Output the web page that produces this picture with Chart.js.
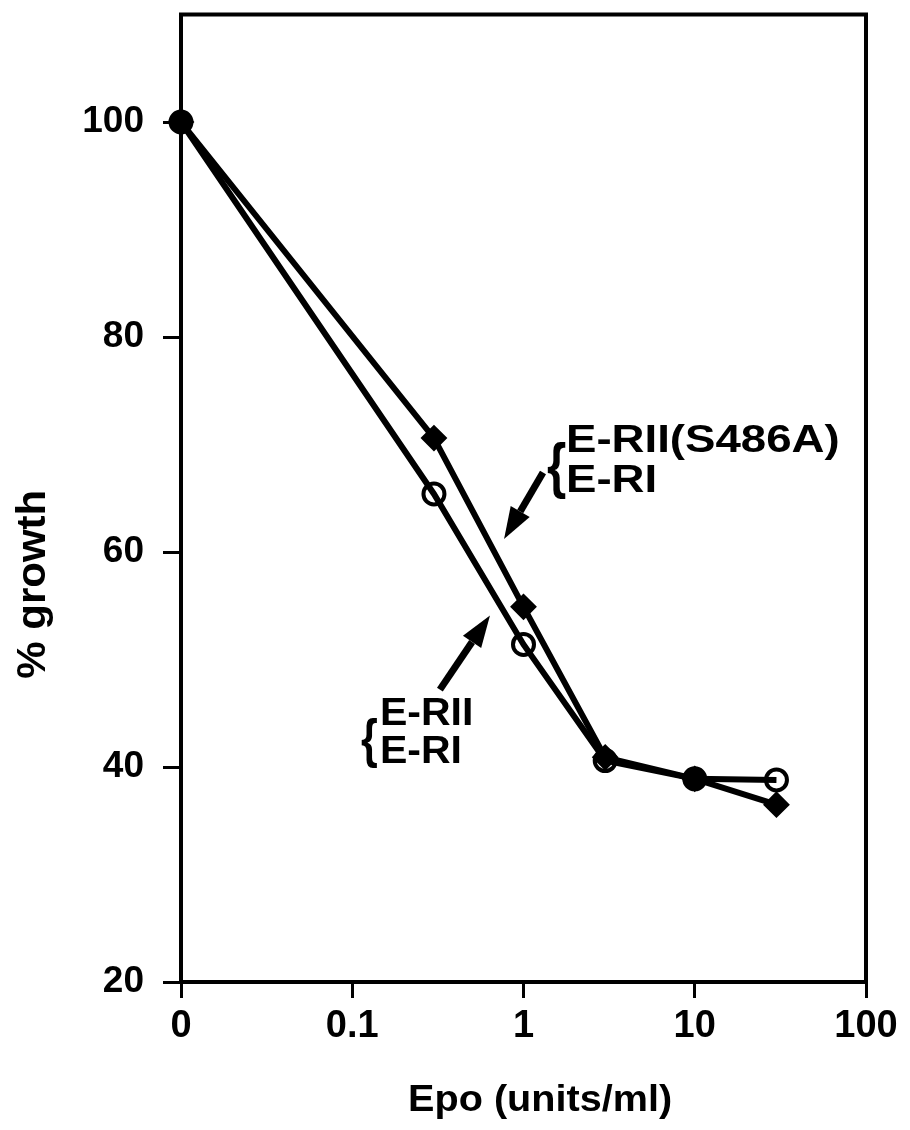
<!DOCTYPE html>
<html>
<head>
<meta charset="utf-8">
<script src="https://cdn.jsdelivr.net/npm/chart.js@4/dist/chart.umd.min.js"></script>
<style>
  body { margin: 0; background: #fff; }
  canvas { display: block; }
</style>
</head>
<body>
<canvas id="growth" width="910" height="1130"></canvas>
<script>
// Epo dose (units/ml); the first point is the "0" dose, drawn at the 0.01 slot of the log axis
const epoDoses = [0.01, 0.3, 1, 3, 10, 30];
const mutantGrowth = [100, 70.6, 54.9, 40.9, 38.9, 36.5];   // E-RII(S486A) + E-RI, filled diamonds
const wildGrowth = [100, 65.4, 51.4, 40.6, 38.9, 38.8];     // E-RII + E-RI, open circles
const xTicks = [0.01, 0.1, 1, 10, 100];
const xTickLabels = ['0', '0.1', '1', '10', '100'];
const yTicks = [20, 40, 60, 80, 100];
const xTitle = 'Epo (units/ml)';
const yTitle = '% growth';

Chart.defaults.font.family = "'Liberation Sans', Arial, sans-serif";
Chart.defaults.font.weight = 'bold';
Chart.defaults.color = '#000';

// frame, axis titles, arrows and the two bracketed labels
const annotations = {
    id: 'annotations',
    beforeDatasetsDraw(chart) {
        const { ctx, chartArea: a } = chart;
        ctx.save();
        ctx.strokeStyle = '#000';
        ctx.lineWidth = 4;
        ctx.strokeRect(a.left, a.top, a.right - a.left, a.bottom - a.top);
        ctx.restore();
    },
    afterDraw(chart) {
        const { ctx, scales: { x, y } } = chart;
        const px = v => x.getPixelForValue(v);
        const py = v => y.getPixelForValue(v);

        const arrow = (x1, y1, x2, y2) => {
            const ang = Math.atan2(y2 - y1, x2 - x1);
            const head = 32, half = 11;
            const bx = x2 - Math.cos(ang) * head, by = y2 - Math.sin(ang) * head;
            ctx.beginPath();
            ctx.moveTo(x1, y1);
            ctx.lineTo(bx, by);
            ctx.lineWidth = 7;
            ctx.stroke();
            ctx.beginPath();
            ctx.moveTo(x2, y2);
            ctx.lineTo(bx + Math.sin(ang) * half, by - Math.cos(ang) * half);
            ctx.lineTo(bx - Math.sin(ang) * half, by + Math.cos(ang) * half);
            ctx.closePath();
            ctx.fill();
        };

        const label = (lx, lineY1, lineY2, line1, line2, sx, braceSize) => {
            ctx.textBaseline = 'alphabetic';
            ctx.textAlign = 'left';
            ctx.font = "bold " + braceSize + "px 'Liberation Sans'";
            ctx.save();
            ctx.translate(lx - 19, lineY2 - 6);
            ctx.scale(0.8, 1);
            ctx.fillText('{', 0, 0);
            ctx.restore();
            ctx.font = "bold 38px 'Liberation Sans'";
            [[line1, lineY1], [line2, lineY2]].forEach(([t, ly]) => {
                ctx.save();
                ctx.translate(lx, ly);
                ctx.scale(sx, 1);
                ctx.fillText(t, 0, 0);
                ctx.restore();
            });
        };

        ctx.save();
        ctx.fillStyle = '#000';
        ctx.strokeStyle = '#000';
        arrow(px(1.30), py(67.4), px(0.77), py(61.2));
        arrow(px(0.325), py(47.2), px(0.637), py(54.1));
        label(px(1.77), py(69.3), py(65.6), 'E-RII(S486A)', 'E-RI', 1.2, 62);
        label(px(0.145), py(43.9), py(40.4), 'E-RII', 'E-RI', 1.08, 54);

        // axis titles
        ctx.textAlign = 'center';
        ctx.font = "bold 36px 'Liberation Sans'";
        ctx.textBaseline = 'alphabetic';
        ctx.save();
        ctx.translate(px(1.25), 1111);
        ctx.scale(1.1, 1);
        ctx.fillText(xTitle, 0, 0);
        ctx.restore();
        ctx.font = "bold 40px 'Liberation Sans'";
        ctx.textBaseline = 'middle';
        ctx.save();
        ctx.translate(34, py(57));
        ctx.rotate(-Math.PI / 2);
        ctx.scale(1.05, 1);
        ctx.fillText(yTitle, 0, 0);
        ctx.restore();
        ctx.restore();
    }
};

new Chart(document.getElementById('growth'), {
    type: 'line',
    data: {
        datasets: [{
            label: 'E-RII / E-RI',
            data: epoDoses.map((d, i) => ({ x: d, y: wildGrowth[i] })),
            borderColor: '#000',
            borderWidth: 6,
            pointStyle: 'circle',
            pointRadius: 10.5,
            pointBorderWidth: 4,
            pointBackgroundColor: 'rgba(0,0,0,0)',
            pointBorderColor: '#000',
            clip: false
        }, {
            label: 'E-RII(S486A) / E-RI',
            data: epoDoses.map((d, i) => ({ x: d, y: mutantGrowth[i] })),
            borderColor: '#000',
            borderWidth: 6,
            pointStyle: 'rectRot',
            pointRadius: 12,
            pointBorderWidth: 2,
            pointBackgroundColor: '#000',
            pointBorderColor: '#000',
            clip: false
        }]
    },
    options: {
        responsive: false,
        animation: false,
        layout: { padding: { top: 10, right: 44, left: 0, bottom: 0 } },
        plugins: { legend: { display: false }, tooltip: { enabled: false } },
        scales: {
            x: {
                type: 'logarithmic',
                min: 0.01,
                max: 100,
                afterBuildTicks: s => { s.ticks = xTicks.map(v => ({ value: v })); },
                afterFit: s => { s.height = 148; s.paddingLeft = 0; s.paddingRight = 0; },
                border: { display: false },
                grid: { drawOnChartArea: false, tickLength: 16, tickWidth: 3, color: '#000' },
                ticks: {
                    padding: 6,
                    font: { size: 38, weight: 'bold' },
                    callback: (v, i) => xTickLabels[i]
                }
            },
            y: {
                min: 20,
                max: 110,
                afterBuildTicks: s => { s.ticks = yTicks.map(v => ({ value: v })); },
                afterFit: s => { s.width = 181; s.paddingTop = 0; s.paddingBottom = 0; },
                border: { display: false },
                grid: { drawOnChartArea: false, tickLength: 18, tickWidth: 3, color: '#000' },
                ticks: {
                    padding: 19,
                    font: { size: 37, weight: 'bold' }
                }
            }
        }
    },
    plugins: [annotations]
});
</script>
</body>
</html>
